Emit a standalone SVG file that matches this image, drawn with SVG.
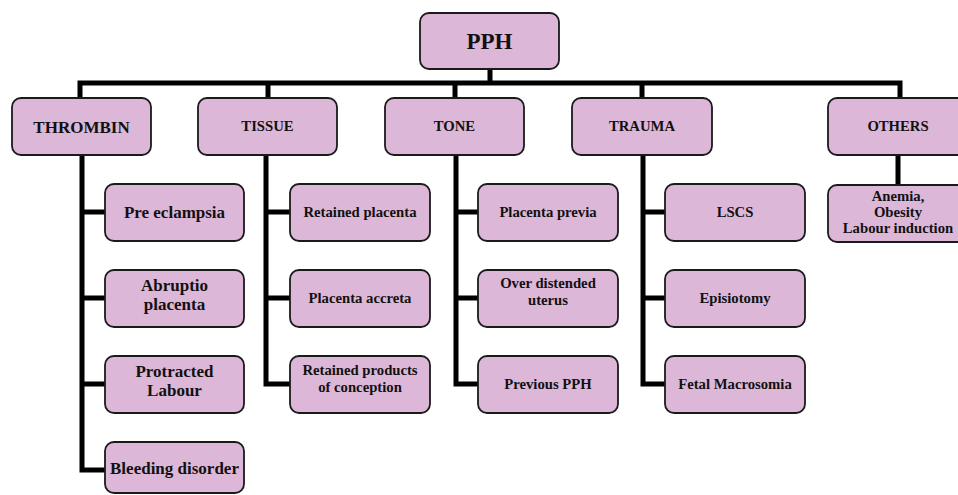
<svg xmlns="http://www.w3.org/2000/svg" width="958" height="495" viewBox="0 0 958 495">
<style>
.box{fill:#DDB7D8;stroke:#1a1a1a;stroke-width:1.8}
.t{font-family:"Liberation Serif","Times New Roman",serif;font-weight:bold;fill:#111;text-anchor:middle}
.s15{font-size:14.7px}
.s17{font-size:17px}
.con{fill:none;stroke:#000;stroke-width:5;stroke-linejoin:miter;stroke-linecap:butt}
</style>
<rect width="958" height="495" fill="#fff"/>
<g id="connectors">
<path class="con" d="M490 69 V83"/>
<path class="con" d="M80 98 V83 H900 V98"/>
<path class="con" d="M268 83 V98 M455 83 V98 M642 83 V98"/>
<path class="con" d="M82 155 V470 H105 M82 212 H105 M82 298 H105 M82 384 H105"/>
<path class="con" d="M266 155 V384 H290 M266 212 H290 M266 298 H290"/>
<path class="con" d="M456 155 V384 H478 M456 212 H478 M456 298 H478"/>
<path class="con" d="M643 155 V384 H665 M643 212 H665 M643 298 H665"/>
<path class="con" d="M898 155 V185"/>
</g>
<g id="pph"><rect class="box" x="420" y="13" width="139" height="56" rx="9"/><text class="t" x="489.5" y="49" font-size="23">PPH</text></g>
<g id="thrombin"><rect class="box" x="12" y="98" width="139" height="57" rx="9"/><text class="t s17" x="81.5" y="133">THROMBIN</text></g>
<g id="tissue"><rect class="box" x="198" y="98" width="139" height="57" rx="9"/><text class="t s15" x="267.5" y="131">TISSUE</text></g>
<g id="tone"><rect class="box" x="385" y="98" width="139" height="57" rx="9"/><text class="t s15" x="454.5" y="131">TONE</text></g>
<g id="trauma"><rect class="box" x="572" y="98" width="140" height="57" rx="9"/><text class="t s15" x="642" y="131">TRAUMA</text></g>
<g id="others"><rect class="box" x="828" y="98" width="140" height="57" rx="9"/><text class="t s15" x="898" y="131">OTHERS</text></g>

<g id="pre-eclampsia"><rect class="box" x="105" y="184" width="139" height="57" rx="9"/><text class="t s17" x="174.5" y="218">Pre eclampsia</text></g>
<g id="abruptio"><rect class="box" x="105" y="270" width="139" height="57" rx="9"/><text class="t s17" x="174.5" y="291">Abruptio</text><text class="t s17" x="174.5" y="310">placenta</text></g>
<g id="protracted"><rect class="box" x="105" y="356" width="139" height="57" rx="9"/><text class="t s17" x="174.5" y="377">Protracted</text><text class="t s17" x="174.5" y="396">Labour</text></g>
<g id="bleeding"><rect class="box" x="105" y="442" width="139" height="51" rx="9"/><text class="t s17" x="174.5" y="474">Bleeding disorder</text></g>

<g id="retained-placenta"><rect class="box" x="290" y="184" width="140" height="57" rx="9"/><text class="t s15" x="360" y="217">Retained placenta</text></g>
<g id="placenta-accreta"><rect class="box" x="290" y="270" width="140" height="57" rx="9"/><text class="t s15" x="360" y="303">Placenta accreta</text></g>
<g id="retained-products"><rect class="box" x="290" y="356" width="140" height="57" rx="9"/><text class="t s15" x="360" y="375">Retained products</text><text class="t s15" x="360" y="392">of conception</text></g>

<g id="placenta-previa"><rect class="box" x="478" y="184" width="140" height="57" rx="9"/><text class="t s15" x="548" y="217">Placenta previa</text></g>
<g id="over-distended"><rect class="box" x="478" y="270" width="140" height="57" rx="9"/><text class="t s15" x="548" y="288">Over distended</text><text class="t s15" x="548" y="305">uterus</text></g>
<g id="previous-pph"><rect class="box" x="478" y="356" width="140" height="57" rx="9"/><text class="t s15" x="548" y="389">Previous PPH</text></g>

<g id="lscs"><rect class="box" x="665" y="184" width="140" height="57" rx="9"/><text class="t s15" x="735" y="217">LSCS</text></g>
<g id="episiotomy"><rect class="box" x="665" y="270" width="140" height="57" rx="9"/><text class="t s15" x="735" y="303">Episiotomy</text></g>
<g id="fetal-macrosomia"><rect class="box" x="665" y="356" width="140" height="57" rx="9"/><text class="t s15" x="735" y="389">Fetal Macrosomia</text></g>

<g id="others-list"><rect class="box" x="828" y="185" width="140" height="57" rx="9"/><text class="t s15" x="898" y="201">Anemia,</text><text class="t s15" x="898" y="217">Obesity</text><text class="t s15" x="898" y="233">Labour induction</text></g>
</svg>
